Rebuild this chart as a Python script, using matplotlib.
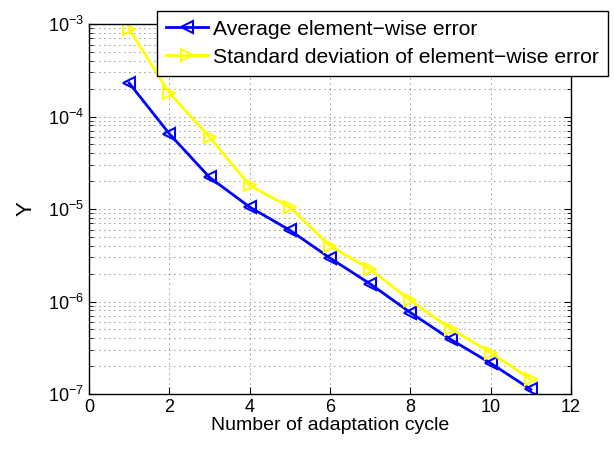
import matplotlib
matplotlib.use("Agg")
import matplotlib.pyplot as plt
from matplotlib.ticker import LogLocator, NullFormatter

plt.rcParams["font.family"] = ["Liberation Sans", "DejaVu Sans"]
plt.rcParams["mathtext.fontset"] = "custom"
plt.rcParams["mathtext.rm"] = "Liberation Sans"
plt.rcParams["mathtext.it"] = "Liberation Sans"

cycles = [1, 2, 3, 4, 5, 6, 7, 8, 9, 10, 11]
avg_err = [2.3e-4, 6.5e-5, 2.2e-5, 1.05e-5, 5.9e-6, 2.95e-6, 1.55e-6,
           7.6e-7, 3.9e-7, 2.15e-7, 1.12e-7]
std_err = [8.8e-4, 1.8e-4, 6.0e-5, 1.8e-5, 1.05e-5, 4.0e-6, 2.23e-6,
           1.03e-6, 5.1e-7, 2.8e-7, 1.44e-7]
labels = ["Average element\u2212wise error",
          "Standard deviation of element\u2212wise error"]

fig = plt.figure(figsize=(6.14, 4.49), dpi=100)
ax = fig.add_axes([0.145, 0.1225, 0.785, 0.824])

ax.semilogy(cycles, avg_err, color="blue", linewidth=2, marker="<",
            markersize=8, markerfacecolor="none", markeredgewidth=1.5,
            label=labels[0])
ax.semilogy(cycles, std_err, color="yellow", linewidth=2, marker=">",
            markersize=8, markerfacecolor="none", markeredgewidth=1.5,
            label=labels[1])

ax.set_xlim(0, 12)
ax.set_ylim(1e-7, 1e-3)
ax.set_xticks([0, 2, 4, 6, 8, 10, 12])
ax.yaxis.set_major_locator(LogLocator(base=10, numticks=10))
ax.yaxis.set_minor_locator(LogLocator(base=10, subs=range(2, 10), numticks=50))
ax.yaxis.set_minor_formatter(NullFormatter())

# MATLAB-like sparse dotted grid
grid_style = dict(linestyle=(0, (1, 5)), color="#333333", linewidth=0.6)
ax.grid(True, which="major", **grid_style)
ax.grid(True, which="minor", axis="y", **grid_style)
ax.tick_params(which="both", direction="in", top=True, right=True, labelsize=13)
ax.tick_params(which="major", length=5)
ax.tick_params(which="minor", length=3)
for s in ax.spines.values():
    s.set_linewidth(1)

ax.set_xlabel("Number of adaptation cycle", fontsize=14, labelpad=1)
ax.set_ylabel("Y", fontsize=16, labelpad=8)

leg = fig.legend(loc="upper left", bbox_to_anchor=(0.2557, 0.9755),
                 fontsize=15.2, fancybox=False, edgecolor="black",
                 framealpha=1, borderpad=0.42, handlelength=2.0,
                 labelspacing=0.42, handletextpad=0.25, borderaxespad=0)
leg.get_frame().set_linewidth(1)

fig.savefig("out.png", dpi=100)
